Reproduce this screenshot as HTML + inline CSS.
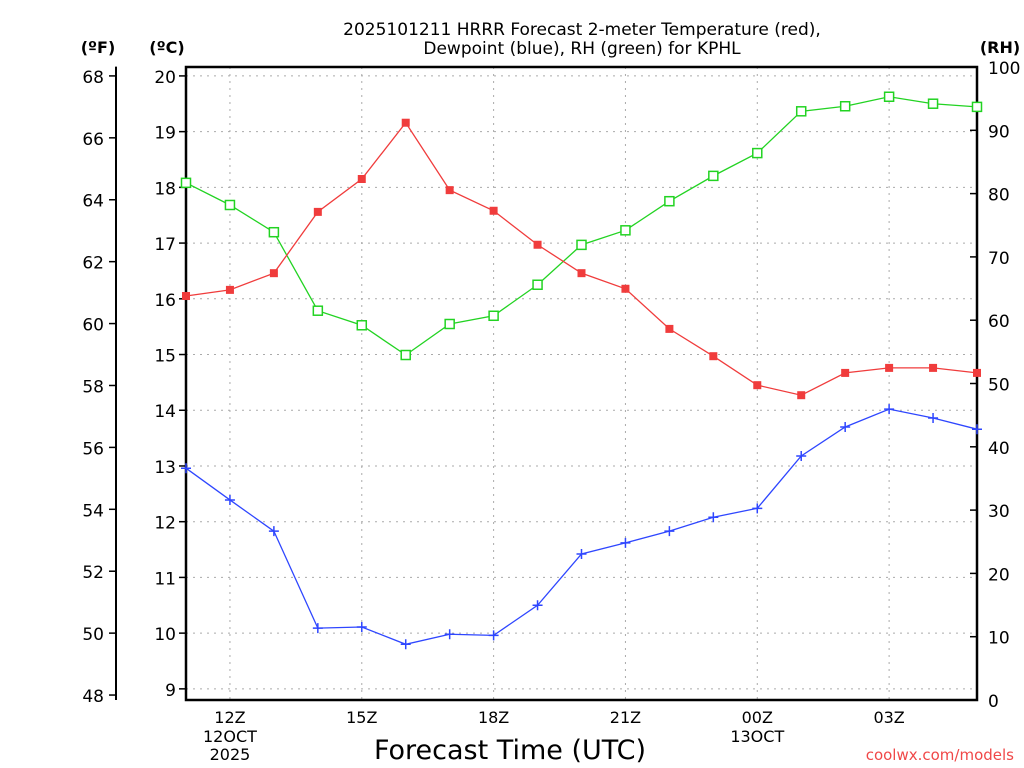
<!DOCTYPE html>
<html><head><meta charset="utf-8"><style>
body{margin:0;background:#fff;}
svg{display:block;font-family:"DejaVu Sans","Liberation Sans",sans-serif;}
</style></head><body>
<svg id="c" width="1024" height="768">
<text x="582" y="35" text-anchor="middle" font-size="17">2025101211 HRRR Forecast 2-meter Temperature (red),</text>
<text x="582" y="54" text-anchor="middle" font-size="17">Dewpoint (blue), RH (green) for KPHL</text>
<text x="98" y="53" text-anchor="middle" font-size="16" font-weight="bold">(ºF)</text>
<text x="167" y="53" text-anchor="middle" font-size="16" font-weight="bold">(ºC)</text>
<text x="1000" y="53" text-anchor="middle" font-size="16" font-weight="bold">(RH)</text>
<text x="510" y="759" text-anchor="middle" font-size="27">Forecast Time (UTC)</text>
<text x="1014" y="760" text-anchor="end" font-size="15" fill="#f04848">coolwx.com/models</text>
<g id="g"></g>
</svg>
<script>
const hours=[11,12,13,14,15,16,17,18,19,20,21,22,23,24,25,26,27,28,29];
const tempC=[16.05,16.16,16.46,17.56,18.15,19.16,17.95,17.58,16.97,16.46,16.18,15.46,14.97,14.45,14.27,14.67,14.76,14.76,14.67];
const dewC=[12.96,12.39,11.83,10.09,10.11,9.80,9.98,9.96,10.50,11.42,11.62,11.83,12.08,12.24,13.18,13.70,14.02,13.86,13.66];
const rh=[81.7,78.2,73.9,61.5,59.2,54.5,59.4,60.7,65.6,71.9,74.2,78.8,82.8,86.4,93.0,93.8,95.3,94.2,93.7];
const xTickHours=[12,15,18,21,24,27];
const xTickLabels=["12Z","15Z","18Z","21Z","00Z","03Z"];
const cTicks=[9,10,11,12,13,14,15,16,17,18,19,20];
const fTicks=[48,50,52,54,56,58,60,62,64,66,68];
const rhTicks=[0,10,20,30,40,50,60,70,80,90,100];
const L=186,R=977,T=67,B=700,H0=11,H1=29,C0=8.8,C1=20.16;
const X=h=>L+(h-H0)/(H1-H0)*(R-L);
const YC=c=>B-(c-C0)/(C1-C0)*(B-T);
const YF=f=>YC((f-32)*5/9);
const YR=r=>B-r/100*(B-T);
const g=document.getElementById('g');const NS='http://www.w3.org/2000/svg';
function mk(t,a,p){const e=document.createElementNS(NS,t);for(const k in a)e.setAttribute(k,a[k]);(p||g).appendChild(e);return e;}
cTicks.forEach(c=>{const y=YC(c);
const l=mk('line',{x1:L,x2:R,y1:y,y2:y,stroke:'#aaa','stroke-dasharray':'2,5'});

mk('line',{x1:L-7,x2:L,y1:y,y2:y,stroke:'#000','stroke-width':1.5});
const t=mk('text',{x:176,y:y+7,'text-anchor':'end','font-size':17});t.textContent=c;
});
xTickHours.forEach((h,i)=>{const x=X(h);
const l=mk('line',{x1:x,x2:x,y1:T,y2:B,stroke:'#aaa','stroke-dasharray':'2,5'});

const t=mk('text',{x:x,y:723,'text-anchor':'middle','font-size':16});t.textContent=xTickLabels[i];
});
[[X(12),["12OCT","2025"]],[X(24),["13OCT"]]].forEach(([x,ls])=>ls.forEach((s,j)=>{const t=mk('text',{x:x,y:742+j*18,'text-anchor':'middle','font-size':16});t.textContent=s;
}));
const fa=mk('line',{x1:116,x2:116,y1:YF(68.3),y2:B,stroke:'#000','stroke-width':2});

fTicks.forEach(f=>{const y=YF(f);mk('line',{x1:109,x2:116,y1:y,y2:y,stroke:'#000','stroke-width':1.5});
const t=mk('text',{x:104,y:y+7,'text-anchor':'end','font-size':17});t.textContent=f;
});
rhTicks.forEach(r=>{const y=YR(r);mk('line',{x1:R-7,x2:R,y1:y,y2:y,stroke:'#000','stroke-width':1.5});
const t=mk('text',{x:988,y:y+7,'font-size':17});t.textContent=r;
});
const fr=mk('rect',{x:L,y:T,width:R-L,height:B-T,fill:'none',stroke:'#000','stroke-width':2.5});

function series(vals,yf,col,name,marker){
const pl=mk('polyline',{points:vals.map((v,i)=>X(hours[i])+','+yf(v)).join(' '),fill:'none',stroke:col,'stroke-width':1.3});

vals.forEach((v,i)=>{const x=X(hours[i]),y=yf(v);let m;
if(marker==='fill')m=mk('rect',{x:x-4,y:y-4,width:8,height:8,fill:col});
else if(marker==='open')m=mk('rect',{x:x-4.5,y:y-4.5,width:9,height:9,fill:'#fff',stroke:col,'stroke-width':1.5});
else m=mk('path',{d:`M${x-5} ${y}H${x+5}M${x} ${y-5}V${y+5}`,stroke:col,'stroke-width':1.5});
});}
series(rh,YR,'#22d322','rh','open');
series(tempC,YC,'#f03c3c','temperature','fill');
series(dewC,YC,'#2e46ff','dewpoint','plus');
</script>
</body></html>
